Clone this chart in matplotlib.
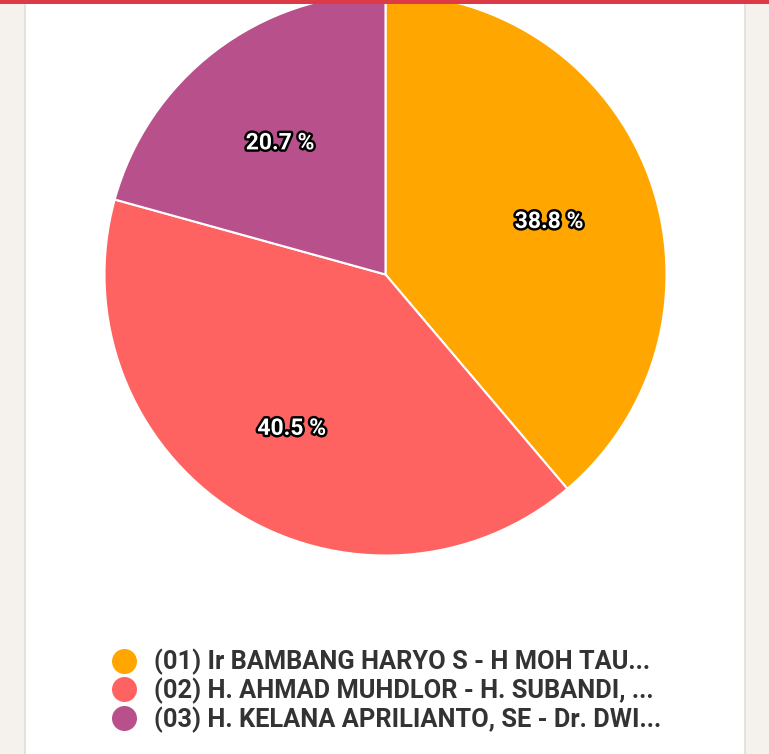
import matplotlib.pyplot as plt
from matplotlib import patheffects
from matplotlib.lines import Line2D
from matplotlib.patches import Rectangle

plt.rcParams['font.family'] = ['Roboto', 'DejaVu Sans']

# data
labels = [
    "(01) Ir BAMBANG HARYO S - H MOH TAU...",
    "(02) H. AHMAD MUHDLOR - H. SUBANDI, ...",
    "(03) H. KELANA APRILIANTO, SE - Dr. DWI...",
]
shares = [38.8, 40.5, 20.7]
colors = ['#FFA600', '#FF6361', '#B8508C']

W, H = 769, 754
fig = plt.figure(figsize=(W / 100, H / 100), dpi=100)
fig.patch.set_facecolor('#F5F1EC')

# white card
fig.patches.append(Rectangle((25 / W, -0.01), 720 / W, 1.02, transform=fig.transFigure,
                             facecolor='white', edgecolor='#E2DDD8', lw=1.2, zorder=-5))

# pie axes: centre (385, 274) px, radius 281 px
r = 281
cx, cy = 385.5, 274.5
ax = fig.add_axes([(cx - r) / W, (H - cy - r) / H, 2 * r / W, 2 * r / H])
ax.set_zorder(1)
ax.patch.set_alpha(0)
wedges, _, autotexts = ax.pie(shares, colors=colors, startangle=90, counterclock=False,
                              autopct='%.1f %%', pctdistance=0.62,
                              wedgeprops=dict(edgecolor='white', linewidth=1.5))
ax.set_xlim(-1, 1)
ax.set_ylim(-1, 1)
for t in autotexts:
    x, y = t.get_position()
    t.set_position((x, y - 0.025))
    t.set_color('white')
    t.set_fontsize(16.5)
    t.set_fontweight('bold')
    t.set_path_effects([patheffects.withStroke(linewidth=3.5, foreground='black')])

# red bar along the top
fig.patches.append(Rectangle((0, 1 - 4 / H), 1, 4 / H, transform=fig.transFigure,
                             facecolor='#DC3A47', edgecolor='none', zorder=10))

handles = [Line2D([], [], marker='o', linestyle='none', markersize=18,
                  markerfacecolor=c, markeredgecolor='none') for c in colors]
leg = fig.legend(handles, labels, loc='upper left',
                 bbox_to_anchor=(111 / W, 1 - 649 / H), frameon=False,
                 fontsize=18.3, labelspacing=0.09, handletextpad=0.7,
                 handlelength=1.0, borderpad=0, borderaxespad=0)
for t in leg.get_texts():
    t.set_color('#333333')
    t.set_fontweight('bold')

fig.savefig('out.png', dpi=100)
